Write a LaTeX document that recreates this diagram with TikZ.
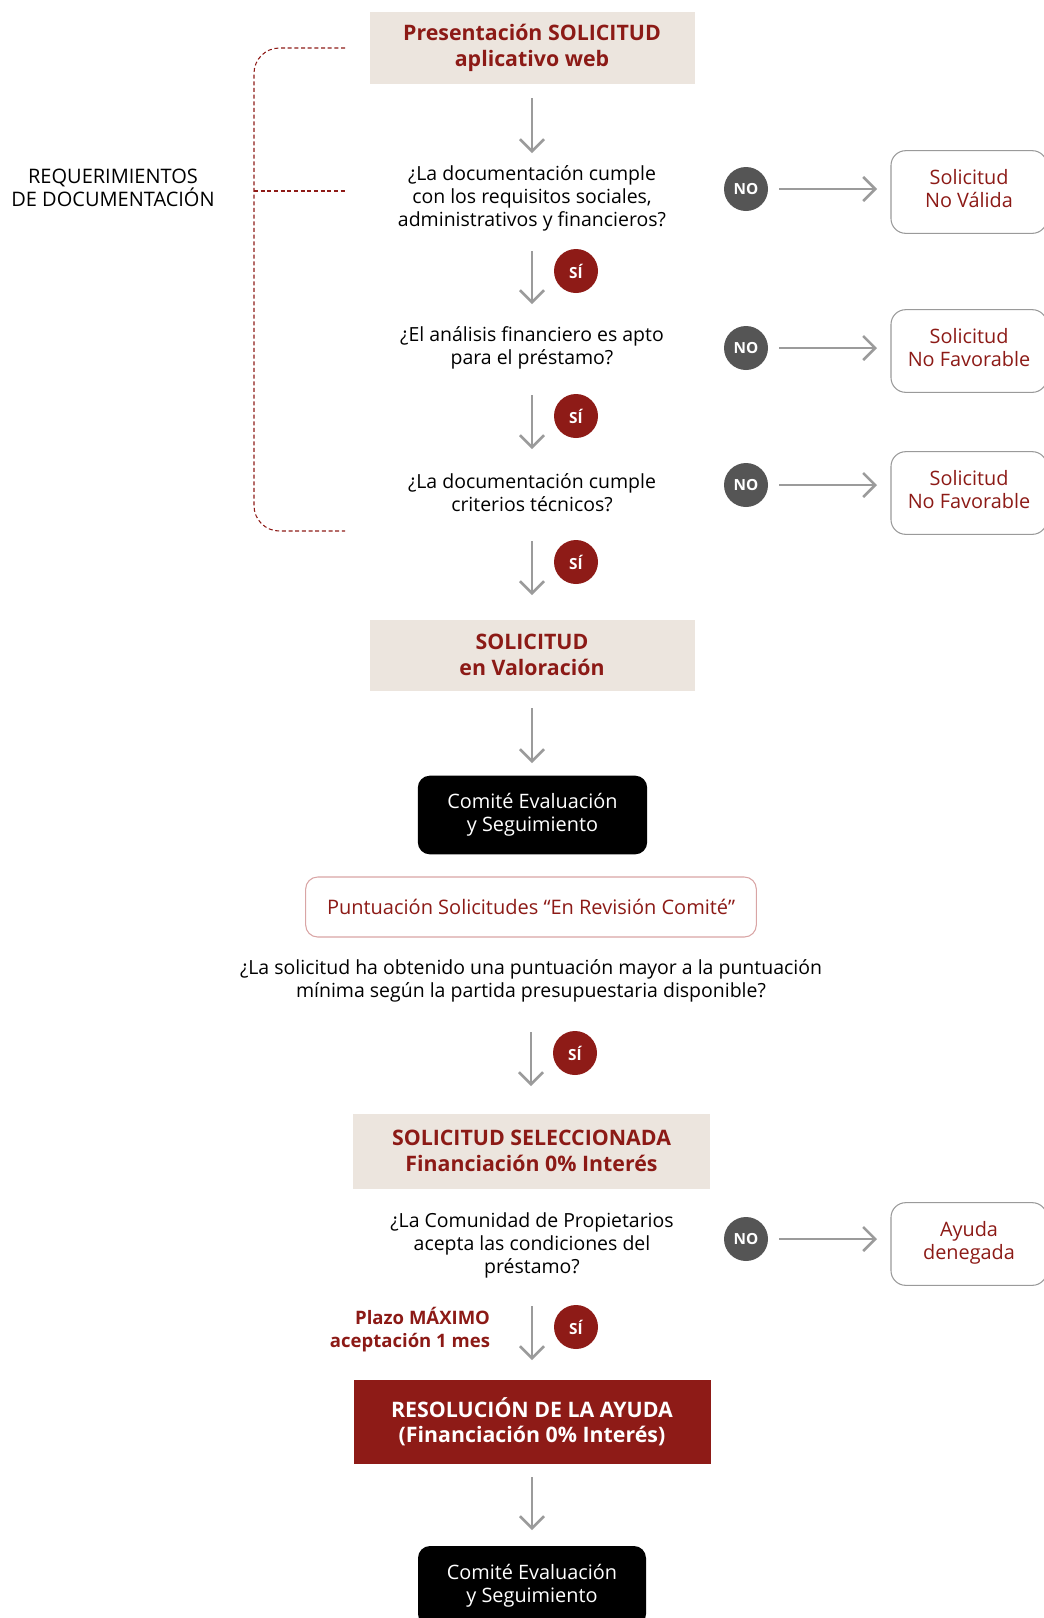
\documentclass[tikz,border=0pt]{standalone}
\usepackage{fontspec}
\setmainfont{Open Sans}
\usetikzlibrary{arrows.meta}
\definecolor{dred}{HTML}{8E1B17}
\definecolor{tred}{HTML}{8C1A16}
\definecolor{beige}{HTML}{ECE5DE}
\definecolor{ngray}{HTML}{555555}
\definecolor{agray}{HTML}{9B9B9B}
\definecolor{bgray}{HTML}{9A9A9A}
\definecolor{pinkb}{HTML}{D9A5A5}
\newcommand\lift{\rule[-5pt]{0pt}{1pt}}
\begin{document}
\begin{tikzpicture}[x=0.75pt,y=-0.75pt,
  every node/.style={inner sep=0pt, outer sep=0pt},
  qtext/.style={align=center, font=\fontsize{14.6}{17.25}\selectfont, text=black},
  headbox/.style={fill=beige, minimum width=243.75pt, align=center, text=tred,
     font=\bfseries\fontsize{16}{19}\selectfont},
  sibubble/.style={circle, fill=dred, minimum size=33pt, text=white,
     font=\bfseries\fontsize{11.5}{12}\selectfont},
  nobubble/.style={circle, fill=ngray, minimum size=33pt, text=white,
     font=\bfseries\fontsize{11.5}{12}\selectfont},
  resbox/.style={draw=bgray, line width=0.8pt, rounded corners=11pt, minimum width=117pt,
     minimum height=62pt, align=center, text=tred, font=\fontsize{14.9}{17.25}\selectfont},
  blackbox/.style={fill=black, rounded corners=9pt, minimum width=172pt, minimum height=59pt,
     align=center, text=white, font=\fontsize{14.9}{17.25}\selectfont},
  arr/.style={draw=agray, line width=1.9pt, -{Straight Barb[length=9pt,width=18pt,line width=1.9pt]}},
  bracket/.style={draw=dred, line width=0.8pt, dash pattern=on 3pt off 2pt}
]
\useasboundingbox (0,0) rectangle (1044,1618);

% bracket
\draw[bracket, rounded corners=19pt] (345,48) -- (254,48) -- (254,531) -- (345,531);
\draw[bracket] (254,191) -- (345,191);
\node[align=center, font=\fontsize{15}{17.25}\selectfont] (req) at (113,188) {REQUERIMIENTOS\\DE DOCUMENTACIÓN};

% main column
\node[headbox, minimum height=54pt, font=\bfseries\fontsize{16}{20}\selectfont] (top) at (532,48) {Presentación SOLICITUD\\aplicativo web};
\node[qtext] (q1) at (532,198) {¿La documentación cumple\\con los requisitos sociales,\\administrativos y financieros?};
\node[sibubble] (si1) at (576,271) {SÍ};
\node[nobubble] (no1) at (746,189) {NO};
\node[resbox] (r1) at (969,192) {Solicitud\\No Válida\lift};

\node[qtext] (q2) at (532,348) {¿El análisis financiero es apto\\para el préstamo?};
\node[sibubble] (si2) at (576,416) {SÍ};
\node[nobubble] (no2) at (746,348) {NO};
\node[resbox] (r2) at (969,351) {Solicitud\\No Favorable\lift};

\node[qtext] (q3) at (532,493) {¿La documentación cumple\\criterios técnicos?};
\node[sibubble] (si3) at (576,562) {SÍ};
\node[nobubble] (no3) at (746,485) {NO};
\node[resbox] (r3) at (969,493) {Solicitud\\No Favorable\lift};

\node[headbox, minimum height=53.25pt] (val) at (532,655) {SOLICITUD\\en Valoración};
\node[blackbox] (com1) at (532.5,815) {Comité Evaluación\\y Seguimiento};
\node[draw=pinkb, line width=0.8pt, rounded corners=9pt, minimum width=338pt, minimum height=45pt,
      text=tred, font=\fontsize{15}{17.25}\selectfont] (punt) at (531,907) {Puntuación Solicitudes “En Revisión Comité”};
\node[qtext] (q4) at (531,981) {¿La solicitud ha obtenido una puntuación mayor a la puntuación\\mínima según la partida presupuestaria disponible?};
\node[sibubble] (si4) at (575,1053) {SÍ};

\node[headbox, minimum width=267.75pt, minimum height=56.25pt] (sel) at (531.5,1151) {SOLICITUD SELECCIONADA\\Financiación 0\% Interés};
\node[qtext] (q5) at (532,1245) {¿La Comunidad de Propietarios\\acepta las condiciones del\\préstamo?};
\node[nobubble] (no5) at (746,1239) {NO};
\node[resbox] (r5) at (969,1244) {Ayuda\\denegada\lift};
\node[align=right, text=tred, font=\bfseries\fontsize{13.9}{17.25}\selectfont, anchor=east] (plazo) at (490,1330) {Plazo MÁXIMO\\aceptación 1 mes};
\node[sibubble] (si5) at (576,1327) {SÍ};

\node[headbox, fill=dred, text=white, minimum width=267.75pt, minimum height=63pt] (res) at (532,1422) {RESOLUCIÓN DE LA AYUDA\\(Financiación 0\% Interés)};
\node[blackbox, minimum width=171pt, minimum height=60pt] (com2) at (532,1586) {Comité Evaluación\\y Seguimiento};

% vertical arrows
\draw[arr] (top.south) ++(0,14) -- ++(0,55);
\draw[arr] (q1.center) ++(0,53) -- ++(0,53);
\draw[arr] (q2.center) ++(0,47) -- ++(0,54);
\draw[arr] (q3.center) ++(0,48) -- ++(0,54);
\draw[arr] (val.center) ++(0,53) -- ++(0,55);
\draw[arr] (q4.center) ++(0,51) -- ++(0,54);
\draw[arr] (q5.center) ++(0,61) -- ++(0,54);
\draw[arr] (res.center) ++(0,55) -- ++(0,53);

% horizontal arrows
\draw[arr, shorten <=8.25pt, shorten >=10.5pt] (no1.east) -- (no1.east -| r1.west);
\draw[arr, shorten <=8.25pt, shorten >=10.5pt] (no2.east) -- (no2.east -| r2.west);
\draw[arr, shorten <=8.25pt, shorten >=10.5pt] (no3.east) -- (no3.east -| r3.west);
\draw[arr, shorten <=8.25pt, shorten >=10.5pt] (no5.east) -- (no5.east -| r5.west);
\end{tikzpicture}
\end{document}
